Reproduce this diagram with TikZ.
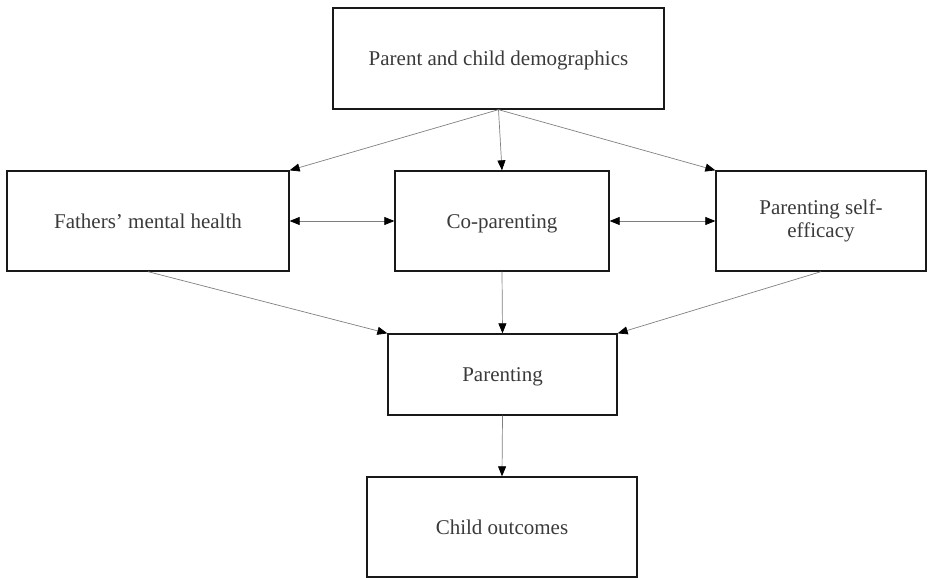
\documentclass[tikz,border=0pt]{standalone}
\usepackage{fontspec}
\setmainfont{Liberation Serif}
\usetikzlibrary{arrows.meta}
\definecolor{txt}{HTML}{3A3A3A}
\definecolor{ln}{HTML}{808080}
\begin{document}
\begin{tikzpicture}[x=1pt,y=-1pt,
  box/.style={draw=black!90,line width=1.3pt,rectangle,inner sep=0pt,align=center,
    text=txt,font=\fontsize{21}{22.5}\selectfont},
  one/.style={text height=19pt,text depth=5pt},
  conn/.style={draw=ln,line width=0.7pt,-{Triangle[length=10pt,width=8pt,fill=black,color=black]}},
  dconn/.style={draw=ln,line width=0.7pt,{Triangle[length=10pt,width=8pt,fill=black,color=black]}-{Triangle[length=10pt,width=8pt,fill=black,color=black]}}]
\useasboundingbox (0,0) rectangle (930,578);
\node[box,one,minimum width=331pt,minimum height=101pt] (top) at (498.5,58.5) {Parent and child demographics};
\node[box,one,minimum width=282pt,minimum height=100pt] (fmh) at (148,221) {Fathers' mental health};
\node[box,one,minimum width=214pt,minimum height=100pt] (cop) at (502,221) {Co-parenting};
\node[box,minimum width=210pt,minimum height=100pt] (pse) at (821,221) {Parenting self-\\efficacy};
\node[box,one,minimum width=229pt,minimum height=81pt] (par) at (502.5,374.5) {Parenting};
\node[box,one,minimum width=270pt,minimum height=100pt] (chi) at (502,527) {Child outcomes};
\draw[conn] (top.south) -- (fmh.north east);
\draw[conn] (top.south) -- (cop.north);
\draw[conn] (top.south) -- (pse.north west);
\draw[dconn] (fmh.east) -- (cop.west);
\draw[dconn] (cop.east) -- (pse.west);
\draw[conn] (fmh.south) -- (par.north west);
\draw[conn] (cop.south) -- (par.north);
\draw[conn] (pse.south) -- (par.north east);
\draw[conn] (par.south) -- (chi.north);
\end{tikzpicture}
\end{document}
